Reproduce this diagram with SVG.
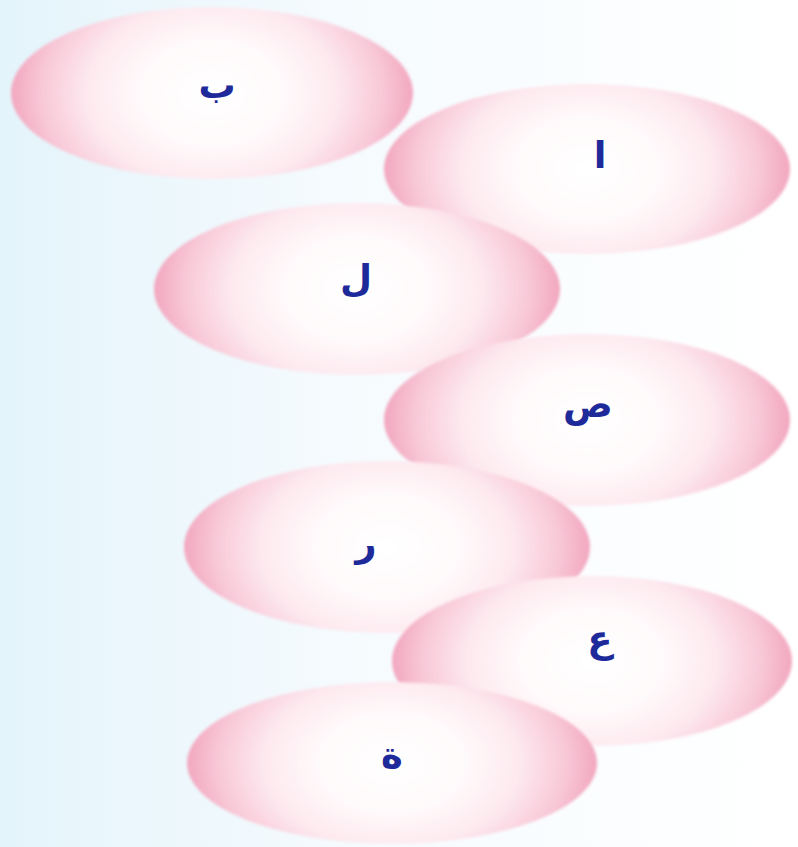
<svg xmlns="http://www.w3.org/2000/svg" width="798" height="847" viewBox="0 0 798 847">
<defs>
<linearGradient id="bg" x1="0" y1="0" x2="1" y2="0">
<stop offset="0" stop-color="#e4f4fb"/>
<stop offset="0.45" stop-color="#f6fbfe"/>
<stop offset="1" stop-color="#ffffff"/>
</linearGradient>
<radialGradient id="pink" cx="0.5" cy="0.5" r="0.5" gradientTransform="translate(0.5,0.5) scale(1,1.7) translate(-0.5,-0.5)">
<stop offset="0" stop-color="#ffffff"/>
<stop offset="0.35" stop-color="#fffafb"/>
<stop offset="0.62" stop-color="#fde9ef"/>
<stop offset="0.85" stop-color="#f8c8d7"/>
<stop offset="1" stop-color="#f2a7bf"/>
</radialGradient>
<filter id="soft" x="-5%" y="-5%" width="110%" height="110%">
<feGaussianBlur stdDeviation="1.5"/>
</filter>
</defs>
<style>
.node ellipse{fill:url(#pink);filter:url(#soft)}
.node text{font-family:"DejaVu Sans","Noto Sans",sans-serif;font-weight:bold;font-size:37px;fill:#1e2a9a;text-anchor:middle}
</style>
<rect width="798" height="847" fill="url(#bg)"/>
<g id="connectors"/>
<g id="n-alif" class="node"><ellipse cx="587" cy="169" rx="203" ry="85"/><text x="600" y="168">ا</text></g>
<g id="n-ba" class="node"><ellipse cx="212" cy="93" rx="201" ry="86"/><text x="217" y="98">ب</text></g>
<g id="n-lam" class="node"><ellipse cx="357" cy="289" rx="203" ry="86"/><text x="356" y="291">ل</text></g>
<g id="n-sad" class="node"><ellipse cx="587" cy="420" rx="203" ry="86"/><text x="588" y="417">ص</text></g>
<g id="n-ra" class="node"><ellipse cx="387" cy="547" rx="203" ry="86"/><text x="366" y="556">ر</text></g>
<g id="n-ain" class="node"><ellipse cx="592" cy="661" rx="200" ry="85"/><text x="600" y="652">ع</text></g>
<g id="n-ta" class="node"><ellipse cx="392" cy="763" rx="205" ry="81"/><text x="392" y="768">ة</text></g>
</svg>
